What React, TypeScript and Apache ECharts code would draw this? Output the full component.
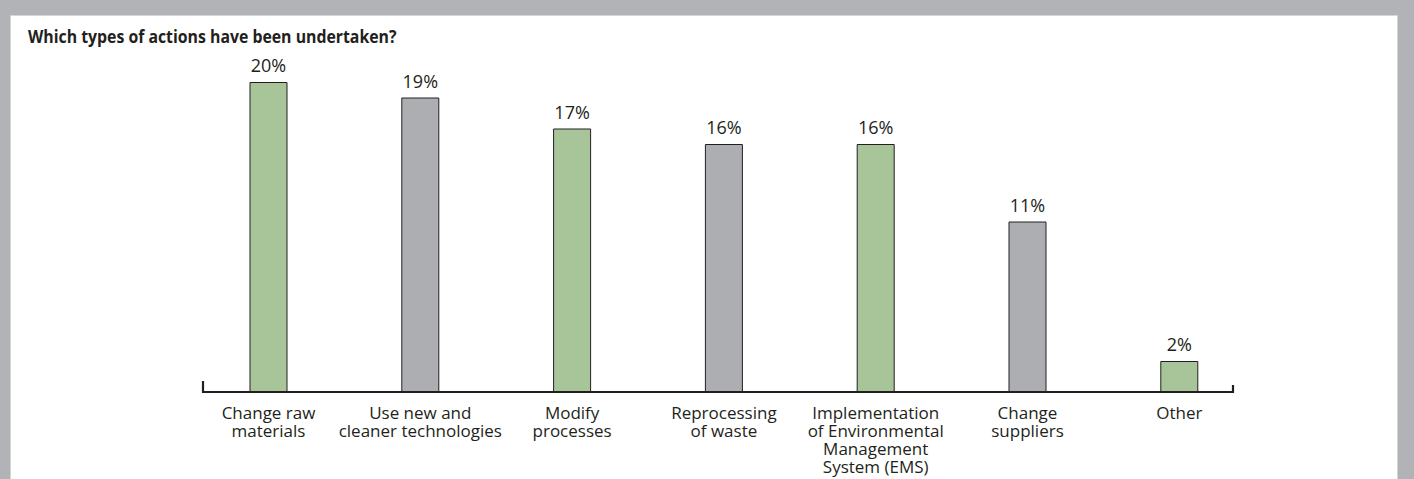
import React, { useEffect, useRef } from "react";
import * as echarts from "echarts";

const title = "Which types of actions have been undertaken?";
const categories = [
  "Change raw\nmaterials",
  "Use new and\ncleaner technologies",
  "Modify\nprocesses",
  "Reprocessing\nof waste",
  "Implementation\nof Environmental\nManagement\nSystem (EMS)",
  "Change\nsuppliers",
  "Other",
];
const values = [20, 19, 17, 16, 16, 11, 2];
const barColors = ["#a8c59a", "#adaeb2", "#a8c59a", "#adaeb2", "#a8c59a", "#adaeb2", "#a8c59a"];

const FONT = "'Open Sans', 'Noto Sans', sans-serif";

export default function App() {
  const ref = useRef<HTMLDivElement>(null);
  useEffect(() => {
    if (!ref.current) return;
    const chart = echarts.init(ref.current, null, { renderer: "svg" });
    chart.setOption({
      animation: false,
      backgroundColor: "#b2b3b6",
      textStyle: { fontFamily: FONT },
      graphic: [
        {
          type: "rect",
          z: -10,
          shape: { x: 10.5, y: 15.5, width: 1387, height: 480 },
          style: { fill: "#ffffff", stroke: "#d4d5d7", lineWidth: 1 },
        },
        {
          type: "text",
          x: 28,
          y: 27,
          scaleX: 0.88,
          style: {
            text: title,
            fontFamily: FONT,
            fontSize: 18,
            fontWeight: "bold",
            fill: "#231f20",
          },
        },
        {
          type: "polyline",
          z: 10,
          shape: { points: [[203, 381], [203, 392], [1233, 392], [1233, 385]] },
          style: { stroke: "#231f20", lineWidth: 2.2, fill: "none" },
        },
      ],
      grid: { left: 192.6, right: 158.8, top: 82, bottom: 87 },
      xAxis: {
        type: "category",
        data: categories,
        axisLine: { show: false },
        axisTick: { show: false },
        axisLabel: {
          interval: 0,
          margin: 11,
          color: "#231f20",
          fontFamily: FONT,
          fontSize: 17,
          lineHeight: 18,
        },
      },
      yAxis: {
        type: "value",
        min: 0,
        max: 20,
        show: false,
        splitLine: { show: false },
      },
      series: [
        {
          type: "bar",
          barWidth: 38,
          data: values.map((v, i) => ({
            value: v,
            itemStyle: { color: barColors[i], borderColor: "#231f20", borderWidth: 1 },
          })),
          label: {
            show: true,
            position: "top",
            distance: 8,
            formatter: "{c}%",
            color: "#231f20",
            fontFamily: FONT,
            fontSize: 18,
          },
        },
      ],
    });
    return () => chart.dispose();
  }, []);
  return (
    <div
      ref={ref}
      style={{ position: "absolute", left: 0, top: 0, width: 1414, height: 479 }}
    />
  );
}
